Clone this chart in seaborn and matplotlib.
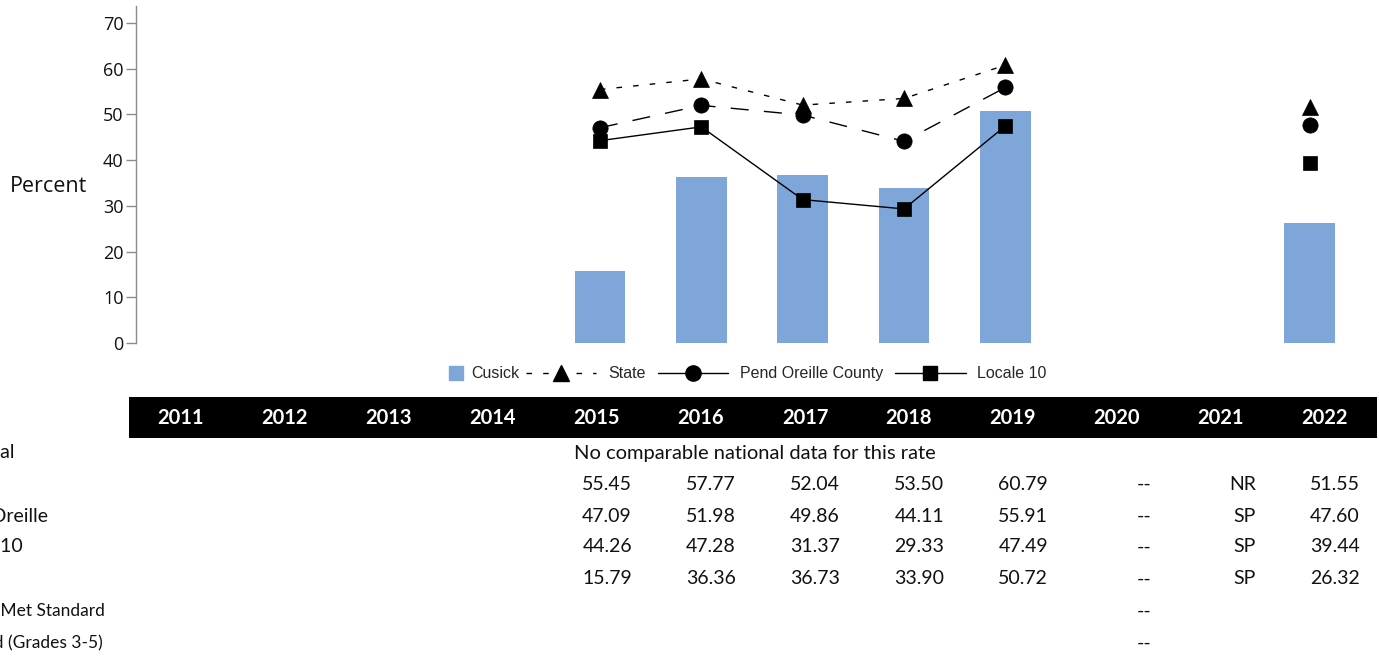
import numpy as np
import pandas as pd
import matplotlib
matplotlib.use("Agg")
import matplotlib.pyplot as plt
from matplotlib.lines import Line2D
from matplotlib.patches import Rectangle
import seaborn as sns

# ---- data -------------------------------------------------------------
years = [2011, 2012, 2013, 2014, 2015, 2016, 2017, 2018, 2019, 2020, 2021, 2022]
nan = np.nan
state = [nan, nan, nan, nan, 55.45, 57.77, 52.04, 53.50, 60.79, nan, nan, 51.55]
pend_oreille = [nan, nan, nan, nan, 47.09, 51.98, 49.86, 44.11, 55.91, nan, nan, 47.60]
locale_10 = [nan, nan, nan, nan, 44.26, 47.28, 31.37, 29.33, 47.49, nan, nan, 39.44]
cusick = [nan, nan, nan, nan, 15.79, 36.36, 36.73, 33.90, 50.72, nan, nan, 26.32]

# status codes shown in the table where no rate is reported
code_2020 = "--"
code_2021_state = "NR"
code_2021_other = "SP"
national_note = "No comparable national data for this rate"

row_labels = ["National", "State", "Pend Oreille", "Locale 10", "Cusick",
              "Number Met Standard", "Number Tested (Grades 3-5)"]
y_ticks = [0, 10, 20, 30, 40, 50, 60, 70]

BAR_COLOR = "#7ea6d8"

# ---- figure -----------------------------------------------------------
W, H = 1379, 656
sns.set_theme(style="white")
plt.rcParams["font.family"] = ["Open Sans", "DejaVu Sans"]

fig = plt.figure(figsize=(W / 100, H / 100), dpi=100)


def fx(px):
    return px / W


def fy(py):
    return 1 - py / H


ax = fig.add_axes([fx(136), fy(343), (1368 - 136) / W, (343 - 6) / H])

year_lbl = [str(y) for y in years]
pos = np.arange(len(years))

bars = pd.DataFrame({"year": year_lbl, "value": cusick})
sns.barplot(data=bars, x="year", y="value", order=year_lbl, color=BAR_COLOR,
            width=0.5, saturation=1, edgecolor="none", ax=ax)


def segments(values):
    """Split a series into runs of consecutive reported years."""
    seg, out, prev = 0, [], False
    for p, v in zip(pos, values):
        if np.isnan(v):
            prev = False
            continue
        if not prev:
            seg += 1
        out.append((p, v, seg))
        prev = True
    return pd.DataFrame(out, columns=["pos", "value", "seg"])


STATE_LS = (0, (4, 8))
PEND_LS = (0, (13, 11))
line_specs = [
    (state, "^", 11, STATE_LS),
    (pend_oreille, "o", 11, PEND_LS),
    (locale_10, "s", 9.5, "-"),
]
for vals, mk, ms, ls in line_specs:
    sns.lineplot(data=segments(vals), x="pos", y="value", units="seg",
                 estimator=None, sort=False, color="black", linewidth=1.0,
                 linestyle=ls, marker=mk, markersize=ms,
                 markeredgecolor="black", markeredgewidth=0.5,
                 legend=False, ax=ax)

ax.set_xlim(-0.576, len(years) - 1 + 0.576)
ax.set_ylim(0, 73.72)
ax.set_yticks(y_ticks)
ax.set_xticks([])
ax.set_xlabel("")
ax.set_ylabel("Percent", rotation=0, fontsize=15.5, color="#111111",
              ha="center", va="center")
ax.yaxis.set_label_coords((48 - 136) / 1232, (343 - 186) / 337)
for side in ["top", "right", "bottom"]:
    ax.spines[side].set_visible(False)
ax.spines["left"].set_color("#8c8c8c")
ax.spines["left"].set_linewidth(1.0)
ax.tick_params(axis="y", direction="out", length=7, width=1.0,
               color="#8c8c8c", labelsize=13, labelcolor="#111111", pad=2,
               left=True)

# ---- legend -----------------------------------------------------------
leg_prop = {"family": ["Liberation Sans"], "size": 11.5}
bar_handle = Line2D([], [], linestyle="none", marker="s", markersize=10,
                    markerfacecolor=BAR_COLOR, markeredgecolor=BAR_COLOR)
fig.legend([bar_handle], ["Cusick"], loc="center left",
           bbox_to_anchor=(fx(446), fy(374)), frameon=False,
           handlelength=1.2, handletextpad=0.35, borderpad=0,
           borderaxespad=0, prop=leg_prop)
line_handles = [
    Line2D([], [], color="black", linewidth=1.0, linestyle=STATE_LS,
           marker="^", markersize=11),
    Line2D([], [], color="black", linewidth=1.0, linestyle="-",
           marker="o", markersize=11),
    Line2D([], [], color="black", linewidth=1.0, linestyle="-",
           marker="s", markersize=9.5),
]
fig.legend(line_handles, ["State", "Pend Oreille County", "Locale 10"],
           loc="center left", bbox_to_anchor=(fx(526), fy(374)), ncol=3,
           frameon=False, handlelength=4.4, handletextpad=0.75,
           columnspacing=0.75, borderpad=0, borderaxespad=0, prop=leg_prop)

# ---- data table -------------------------------------------------------
col0, colw = 129, 104
band_top, band_bot = 397, 438
fig.patches.append(Rectangle((fx(col0), fy(band_bot)),
                             (colw * len(years)) / W,
                             (band_bot - band_top) / H,
                             transform=fig.transFigure, facecolor="black",
                             edgecolor="none"))
tfont = ["Lato", "DejaVu Sans"]
TXT = "#111111"
for i, y in enumerate(year_lbl):
    fig.text(fx(col0 + colw * i + colw / 2), fy((band_top + band_bot) / 2), y,
             ha="center", va="center", color="white", fontsize=14.5,
             fontweight="bold", family=tfont)

row_y = [453, 484, 516, 547, 579, 611, 643]
# visible right edges of the row headers (the header column runs off the page)
label_right = {0: 15, 2: 48, 3: 23, 5: 105, 6: 103}
for r, xr in label_right.items():
    small = r >= 5
    fig.text(fx(xr), fy(row_y[r]), row_labels[r], ha="right", va="center",
             fontsize=12.5 if small else 14, family=tfont, color=TXT)

fig.text(fx(755), fy(row_y[0]), national_note, ha="center", va="center",
         fontsize=14.5, family=tfont, color=TXT)

series_rows = [(1, state, code_2021_state), (2, pend_oreille, code_2021_other),
               (3, locale_10, code_2021_other), (4, cusick, code_2021_other)]
for r, vals, c21 in series_rows:
    for i, v in enumerate(vals):
        if years[i] == 2020:
            txt = code_2020
        elif years[i] == 2021:
            txt = c21
        elif np.isnan(v):
            continue
        else:
            txt = f"{v:.2f}"
        fig.text(fx(col0 + colw * (i + 1) - 17), fy(row_y[r]), txt,
                 ha="right", va="center", fontsize=14, family=tfont, color=TXT)

i2020 = years.index(2020)
for r in (5, 6):
    fig.text(fx(col0 + colw * (i2020 + 1) - 17), fy(row_y[r]), code_2020,
             ha="right", va="center", fontsize=14, family=tfont, color=TXT)

fig.savefig("out.png", dpi=100)
